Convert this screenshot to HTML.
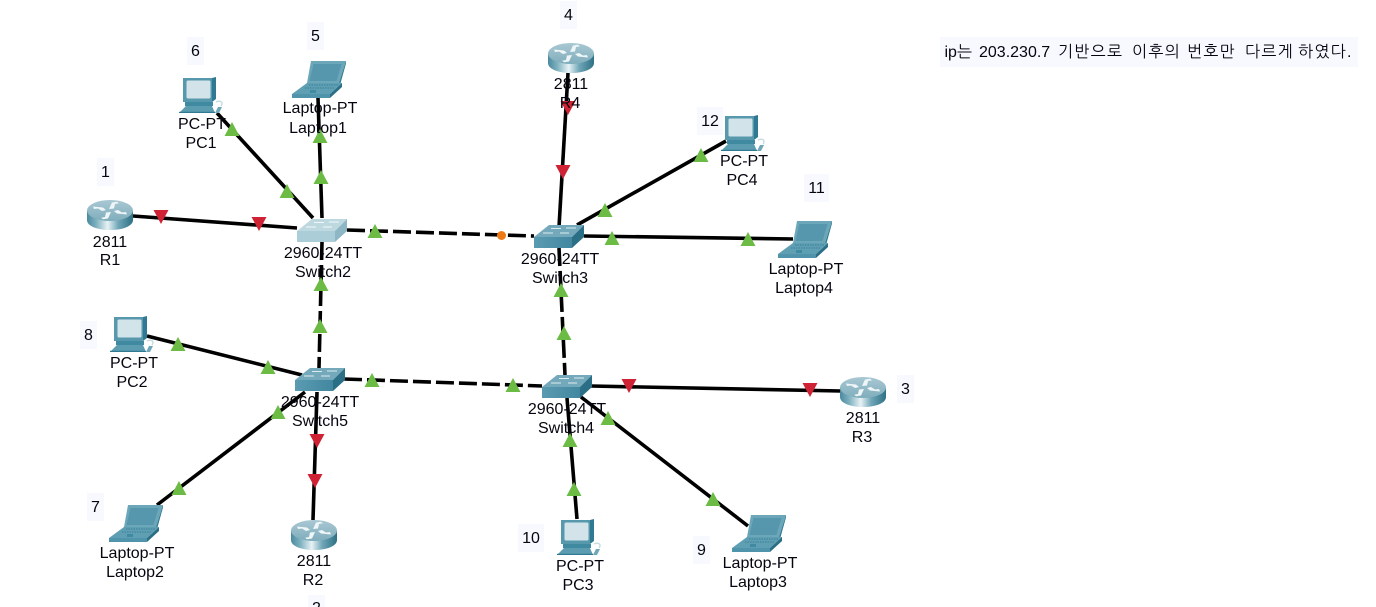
<!DOCTYPE html>
<html lang="ko">
<head>
<meta charset="utf-8">
<title>Network topology</title>
<style>
html,body{margin:0;padding:0;background:#fff;width:1376px;height:607px;overflow:hidden}
svg{display:block}
text{font-family:"Liberation Sans","NanumGothic","Noto Sans CJK KR",sans-serif;font-size:16px;fill:#05050f}
.l text{text-anchor:middle}
.k{stroke:#000;stroke-width:3.6;fill:none}
.d{stroke-dasharray:18 5}
.nb{fill:#f8f9ff}
</style>
</head>
<body>
<svg width="1376" height="607" viewBox="0 0 1376 607" xmlns="http://www.w3.org/2000/svg">
<defs>
<linearGradient id="rs" x1="0" x2="1" y1="0" y2="0">
<stop offset="0" stop-color="#4a8a9e"/><stop offset=".2" stop-color="#7db0bf"/><stop offset=".45" stop-color="#e8f2f5"/><stop offset=".68" stop-color="#6fa6b7"/><stop offset="1" stop-color="#2e7084"/>
</linearGradient>
<linearGradient id="rt" x1="0" x2="0" y1="0" y2="1">
<stop offset="0" stop-color="#a9c8d3"/><stop offset="1" stop-color="#7fadbc"/>
</linearGradient>
<linearGradient id="sf" x1="0" x2="1" y1="0" y2="0">
<stop offset="0" stop-color="#5a9bb1"/><stop offset="1" stop-color="#4287a0"/>
</linearGradient>
<symbol id="router" viewBox="0 0 46 30" width="46" height="30" overflow="visible">
<path d="M0 10.500V20C0 26 10 30 23 30S46 26 46 20V10.500Z" fill="url(#rs)"/>
<ellipse cx="23" cy="10.500" rx="23" ry="10.500" fill="url(#rt)"/>
<path d="M6 6.500L16 7.500L19 10L15 11L11 8.500L7 9ZM40 14.500L30 13.500L27 11L31 10L35 12.500L39 12ZM22 9L25 2.500L30 1.800L32 3.300L28 4L27 8.500ZM24 12L21 18.500L16 19.200L14 17.700L18 17L19 12.500Z" fill="#eef6f8"/>
</symbol>
<symbol id="sw" viewBox="0 0 50 23" width="50" height="23" overflow="visible">
<polygon points="0,12 15,0 50,0 38,12" fill="#74a9bb"/>
<polygon points="0,12 38,12 38,23 0,23" fill="url(#sf)"/>
<polygon points="38,12 50,0 50,12 38,23" fill="#2b6f86"/>
<path d="M17 3.500H27M32 3H42M9 8H19M26 8H35" stroke="#dbeaef" stroke-width="1" fill="none"/>
</symbol>
<symbol id="swl" viewBox="0 0 50 23" width="50" height="23" overflow="visible">
<polygon points="0,12 15,0 50,0 38,12" fill="#bed8e0"/>
<polygon points="0,12 38,12 38,23 0,23" fill="#aacdd8"/>
<polygon points="38,12 50,0 50,12 38,23" fill="#8db7c5"/>
<path d="M17 3.500H27M32 3H42M9 8H19M26 8H35" stroke="#f2f8fa" stroke-width="1" fill="none"/>
</symbol>
<symbol id="pc" viewBox="0 0 44 36" width="44" height="36" overflow="visible">
<polygon points="4,1 33,1 37,0 37,22 33,25 4,25" fill="#2f7a92"/>
<rect x="4" y="1" width="29" height="24" fill="#5798ad"/>
<rect x="7.500" y="3.500" width="24" height="18" rx="1.500" fill="#d2e3ea"/>
<polygon points="6,25 34,25 34,29 6,29" fill="#3f8aa1"/>
<polygon points="0,36 7,29 33,29 36,36" fill="#5b9cb1"/>
<rect x="0" y="34.800" width="36" height="1.200" fill="#2f7a92"/>
<path d="M36 36L39 30H43L40 36Z" fill="#6fa7b9"/>
<path d="M37 25C41 23 45 25 42 29" stroke="#c4dbe3" stroke-width="1.400" fill="none"/>
</symbol>
<symbol id="lap" viewBox="0 0 54 37" width="54" height="37" overflow="visible">
<polygon points="19,0 54,0 47,22 15,22" fill="#6ba6b9"/>
<polygon points="21.500,3 49.500,3 44.500,20 17.500,20" fill="#5797ad"/>
<polygon points="54,0 54,2.500 48,24 47,22" fill="#2f7a92"/>
<polygon points="15,22 50,22 38,33 0,33" fill="#5f9fb3"/>
<polygon points="0,33 38,33 38,37 0,37" fill="#4f94aa"/>
<polygon points="38,33 50,22 50,26 38,37" fill="#2b6f86"/>
<path d="M17 24H46M13 27H43" stroke="#3b7f95" stroke-width="1" fill="none" stroke-dasharray="1.500 1"/>
<rect x="18" y="29" width="6" height="3" fill="#3f8aa1"/>
</symbol>
<polygon id="gt" points="0,-7 7.500,7 -7.500,7" fill="#6cbb45"/>
<polygon id="rd" points="0,7 7.500,-7 -7.500,-7" fill="#cf2234"/>
</defs>

<!-- number and note backgrounds -->
<g class="nb">
<rect x="940" y="37" width="418" height="30"/>
<rect x="97" y="158" width="17" height="28"/>
<rect x="187" y="37" width="17" height="28"/>
<rect x="307" y="22" width="17" height="28"/>
<rect x="560" y="1" width="17" height="28"/>
<rect x="697" y="107" width="26" height="28"/>
<rect x="804" y="174" width="25" height="28"/>
<rect x="897" y="375" width="17" height="28"/>
<rect x="80" y="321" width="17" height="28"/>
<rect x="87" y="493" width="17" height="28"/>
<rect x="518" y="524" width="26" height="28"/>
<rect x="693" y="536" width="17" height="28"/>
<rect x="308" y="595" width="17" height="28"/>
</g>

<!-- links -->
<g class="k">
<line x1="133" y1="216" x2="297" y2="228"/>
<line x1="217" y1="113" x2="313" y2="218"/>
<line x1="318" y1="98" x2="322" y2="218"/>
<line x1="559" y1="227" x2="568" y2="73"/>
<line x1="577" y1="225" x2="726" y2="141"/>
<line x1="584" y1="236" x2="793" y2="239"/>
<line x1="147" y1="336" x2="302" y2="375"/>
<line x1="157" y1="505" x2="305" y2="392"/>
<line x1="317" y1="392" x2="313" y2="520"/>
<line x1="591" y1="386" x2="841" y2="391"/>
<line x1="567" y1="398" x2="577" y2="519"/>
<line x1="581" y1="397" x2="748" y2="526"/>
<line x1="322" y1="242" x2="319" y2="368" class="k d"/>
<line x1="347" y1="230" x2="534" y2="236" class="k d"/>
<line x1="559" y1="248" x2="565" y2="375" class="k d"/>
<line x1="344" y1="379" x2="542" y2="386" class="k d"/>
</g>

<!-- status markers -->
<use href="#gt" x="232" y="129"/>
<use href="#gt" x="287" y="191"/>
<use href="#gt" x="320" y="136"/>
<use href="#gt" x="321" y="177"/>
<use href="#gt" x="375" y="231"/>
<use href="#gt" x="321" y="284"/>
<use href="#gt" x="320" y="326"/>
<use href="#gt" x="268" y="367"/>
<use href="#gt" x="178" y="344"/>
<use href="#gt" x="278" y="412"/>
<use href="#gt" x="179" y="488"/>
<use href="#gt" x="372" y="380"/>
<use href="#gt" x="513" y="385"/>
<use href="#gt" x="564" y="333"/>
<use href="#gt" x="561" y="290"/>
<use href="#gt" x="570" y="440"/>
<use href="#gt" x="574" y="489"/>
<use href="#gt" x="608" y="418"/>
<use href="#gt" x="713" y="499"/>
<use href="#gt" x="605" y="210"/>
<use href="#gt" x="701" y="155"/>
<use href="#gt" x="612" y="238"/>
<use href="#gt" x="748" y="239"/>
<use href="#rd" x="161" y="217"/>
<use href="#rd" x="259" y="224"/>
<use href="#rd" x="568" y="108"/>
<use href="#rd" x="563" y="172"/>
<use href="#rd" x="317" y="441"/>
<use href="#rd" x="315" y="481"/>
<use href="#rd" x="629" y="386"/>
<use href="#rd" x="810" y="390"/>
<circle cx="501.500" cy="235.500" r="4.500" fill="#ee7a16"/>

<!-- devices -->
<use href="#router" x="87" y="200"/>
<use href="#router" x="548" y="43"/>
<use href="#router" x="291" y="520"/>
<use href="#router" x="840" y="377"/>
<use href="#swl" x="297" y="219"/>
<use href="#sw" x="534" y="225"/>
<use href="#sw" x="295" y="368"/>
<use href="#sw" x="542" y="375"/>
<use href="#pc" x="179" y="77"/>
<use href="#pc" x="721" y="115"/>
<use href="#pc" x="110" y="316"/>
<use href="#pc" x="557" y="519"/>
<use href="#lap" x="292" y="61"/>
<use href="#lap" x="778" y="221"/>
<use href="#lap" x="109" y="505"/>
<use href="#lap" x="732" y="515"/>

<!-- device labels -->
<g class="l">
<text x="110" y="247">2811</text><text x="110" y="265">R1</text>
<text x="202" y="129">PC-PT</text><text x="201" y="148">PC1</text>
<text x="320" y="113">Laptop-PT</text><text x="318" y="133">Laptop1</text>
<text x="323" y="258">2960-24TT</text><text x="323" y="277">Switch2</text>
<text x="571" y="89">2811</text><text x="570" y="108">R4</text>
<text x="744" y="166">PC-PT</text><text x="742" y="185">PC4</text>
<text x="806" y="274">Laptop-PT</text><text x="804" y="293">Laptop4</text>
<text x="560" y="264">2960-24TT</text><text x="560" y="283">Switch3</text>
<text x="134" y="368">PC-PT</text><text x="132" y="387">PC2</text>
<text x="137" y="558">Laptop-PT</text><text x="135" y="577">Laptop2</text>
<text x="314" y="566">2811</text><text x="313" y="585">R2</text>
<text x="320" y="407">2960-24TT</text><text x="320" y="426">Switch5</text>
<text x="567" y="414">2960-24TT</text><text x="566" y="433">Switch4</text>
<text x="863" y="423">2811</text><text x="862" y="442">R3</text>
<text x="580" y="571">PC-PT</text><text x="578" y="590">PC3</text>
<text x="760" y="568">Laptop-PT</text><text x="758" y="587">Laptop3</text>
</g>

<!-- numbers -->
<g class="l">
<text x="105.500" y="177">1</text>
<text x="195.500" y="56">6</text>
<text x="315.500" y="41">5</text>
<text x="568.500" y="20">4</text>
<text x="710" y="126">12</text>
<text x="816.500" y="193">11</text>
<text x="905.500" y="394">3</text>
<text x="88.500" y="340">8</text>
<text x="95.500" y="512">7</text>
<text x="531" y="543">10</text>
<text x="701.500" y="555">9</text>
<text x="316.500" y="613">2</text>
</g>

<!-- note -->
<text y="57"><tspan x="944.500">ip는</tspan> <tspan x="979">203.230.7</tspan> <tspan x="1058" letter-spacing="1.300">기반으로</tspan> <tspan x="1132" letter-spacing="1.300">이후의</tspan> <tspan x="1187" letter-spacing="1.300">번호만</tspan> <tspan x="1245" letter-spacing="1.300">다르게</tspan> <tspan x="1298" letter-spacing="1.300">하였다.</tspan></text>
</svg>
</body>
</html>
